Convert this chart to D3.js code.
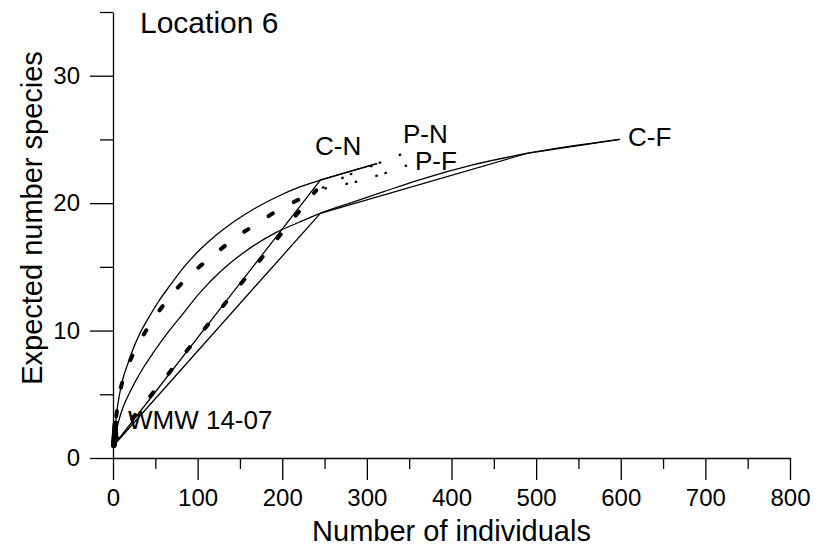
<!DOCTYPE html>
<html>
<head>
<meta charset="utf-8">
<script src="https://cdn.jsdelivr.net/npm/d3@7"></script>
<style>
  body { margin: 0; background: #fff; }
  svg { font-family: "Liberation Sans", Arial, sans-serif; }
  .axis path, .axis line { stroke: #000; stroke-width: 1.3px; }
  .axis text { font-size: 24px; fill: #000; }
  .line { fill: none; stroke: #000; stroke-linejoin: round; }
</style>
</head>
<body>
<script>
// x = number of individuals, y = expected number of species
var cnCurveX = [1, 2, 3, 5, 8, 12, 17, 24, 32, 42, 54, 68, 84, 102, 122, 144, 168, 194, 220, 245, 312];
var cnCurveY = [1, 1.9, 2.7, 3.9, 5.1, 6.3, 7.3, 8.6, 9.8, 11.0, 12.3, 13.6, 15.0, 16.3, 17.5, 18.6, 19.6, 20.5, 21.25, 21.8, 23.1];

var cnLineX = [1, 245, 312];
var cnLineY = [1, 21.8, 23.1];

var cfCurveX = [1, 2, 3, 5, 8, 12, 18, 26, 36, 48, 62, 80, 103, 128, 155, 193, 220, 245, 280, 320, 363, 425, 489, 599];
var cfCurveY = [1, 1.5, 1.9, 2.5, 3.2, 4.0, 4.9, 5.95, 7.1, 8.3, 9.6, 11.1, 13.0, 14.7, 16.15, 17.7, 18.5, 19.2, 20.0, 20.9, 21.85, 23.0, 23.9, 25.0];

var cfLineX = [1, 245, 489, 599];
var cfLineY = [1, 19.2, 23.9, 25.0];

var pnCurveX = [1, 2, 3, 5, 8, 12, 17, 24, 32, 42, 54, 68, 84, 102, 122, 145, 168, 194, 220, 238];
var pnCurveY = [1, 1.9, 2.7, 3.9, 5.1, 6.2, 7.1, 8.2, 9.2, 10.3, 11.5, 12.7, 13.9, 15.0, 16.1, 17.3, 18.3, 19.4, 20.3, 20.9];

var pfLineX = [1, 240];
var pfLineY = [1.3, 21.0];

var pnDotX = [238, 278, 343];
var pnDotY = [20.9, 22.2, 23.9];

var pfDotX = [240, 289, 324, 353];
var pfDotY = [21.0, 21.7, 22.4, 23.1];

var xMajorTicks = [0, 100, 200, 300, 400, 500, 600, 700, 800];
var xMinorTicks = [50, 150, 250, 350, 450, 550, 650, 750];
var yMajorTicks = [0, 10, 20, 30];
var yMinorTicks = [5, 15, 25, 35];

// curve labels, anchored in data units (left edge, baseline)
var labelText = ["C-N", "P-N", "P-F", "C-F", "WMW 14-07"];
var labelX = [238.7, 342.7, 356.9, 608.6, 17.7];
var labelY = [23.78, 24.72, 22.6, 24.48, 2.28];

var margin = { top: 12, right: 25, bottom: 92, left: 113 }
    , width = 815 - margin.left - margin.right
    , height = 550 - margin.top - margin.bottom;

var xScale = d3.scaleLinear().domain([0, 800]).range([0, width]);
var yScale = d3.scaleLinear().domain([0, 35]).range([height, 0]);

var svg = d3.select("body").append("svg")
    .attr("width", width + margin.left + margin.right)
    .attr("height", height + margin.top + margin.bottom);

var g = svg.append("g")
    .attr("transform", "translate(" + margin.left + "," + margin.top + ")");

// axes: labelled major ticks plus shorter minor ticks
g.append("g")
    .attr("class", "x axis")
    .attr("transform", "translate(0," + height + ")")
    .call(d3.axisBottom(xScale).tickValues(xMajorTicks).tickSize(22).tickSizeOuter(0).tickPadding(9));

g.append("g")
    .attr("class", "x axis minor")
    .attr("transform", "translate(0," + height + ")")
    .call(d3.axisBottom(xScale).tickValues(xMinorTicks).tickSize(11).tickFormat(""))
    .select(".domain").remove();

g.append("g")
    .attr("class", "y axis")
    .call(d3.axisLeft(yScale).tickValues(yMajorTicks).tickSize(23).tickSizeOuter(0).tickPadding(10));

g.append("g")
    .attr("class", "y axis minor")
    .call(d3.axisLeft(yScale).tickValues(yMinorTicks).tickSize(13).tickFormat(""))
    .select(".domain").remove();

// axis titles
svg.append("text")
    .attr("x", margin.left + xScale(400))
    .attr("y", 541)
    .style("text-anchor", "middle")
    .style("font-size", "29px")
    .text("Number of individuals");

svg.append("text")
    .attr("transform", "translate(42,218) rotate(-90)")
    .style("text-anchor", "middle")
    .style("font-size", "29px")
    .text("Expected number species");

svg.append("text")
    .attr("x", 140)
    .attr("y", 33)
    .style("font-size", "30px")
    .text("Location 6");

function pts(xs, ys) {
    return xs.map(function (d, i) { return { x: d, y: ys[i] }; });
}

var smooth = d3.line()
    .x(function (d) { return xScale(d.x); })
    .y(function (d) { return yScale(d.y); })
    .curve(d3.curveMonotoneX);

var straight = d3.line()
    .x(function (d) { return xScale(d.x); })
    .y(function (d) { return yScale(d.y); });

var series = [
    { data: pts(cnCurveX, cnCurveY), gen: smooth, w: 1.3, dash: null },
    { data: pts(cnLineX, cnLineY), gen: straight, w: 1.3, dash: null },
    { data: pts(cfCurveX, cfCurveY), gen: smooth, w: 1.3, dash: null },
    { data: pts(cfLineX, cfLineY), gen: straight, w: 1.3, dash: null },
    { data: pts(pnCurveX, pnCurveY), gen: smooth, w: 4, dash: "5,24" },
    { data: pts(pfLineX, pfLineY), gen: straight, w: 4, dash: "5,24" },
    { data: pts(pnDotX, pnDotY), gen: straight, w: 2.4, dash: "0.5,9,0.5,21" },
    { data: pts(pfDotX, pfDotY), gen: straight, w: 2.4, dash: "0.5,9,0.5,21" }
];

series.forEach(function (s) {
    g.append("path")
        .datum(s.data)
        .attr("class", "line")
        .attr("stroke-width", s.w)
        .attr("stroke-linecap", s.dash ? "round" : "butt")
        .attr("stroke-dasharray", s.dash)
        .attr("d", s.gen);
});

// the dense start of every curve shows as a thick stroke near the origin
var starts = [[cnCurveX, cnCurveY], [cfCurveX, cfCurveY], [pnCurveX, pnCurveY]];
g.selectAll(".start")
    .data(starts)
    .enter().append("path")
    .attr("class", "line start")
    .attr("stroke-width", 5.5)
    .attr("stroke-linecap", "round")
    .attr("d", function (s) { return straight(pts(s[0].slice(0, 3), s[1].slice(0, 3))); });

g.selectAll(".label")
    .data(labelText)
    .enter().append("text")
    .attr("class", "label")
    .attr("x", function (d, i) { return xScale(labelX[i]); })
    .attr("y", function (d, i) { return yScale(labelY[i]); })
    .style("font-size", "26px")
    .text(function (d) { return d; });
</script>
</body>
</html>
